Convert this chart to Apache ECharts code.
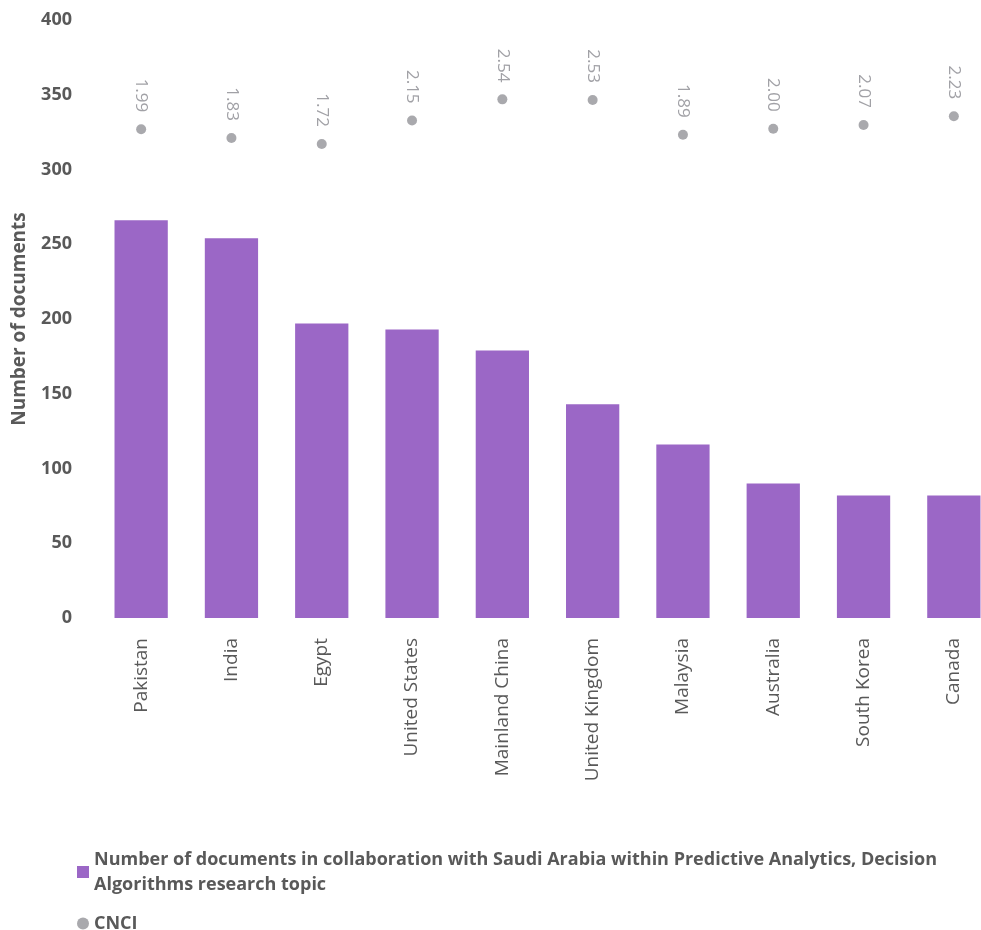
<!DOCTYPE html>
<html>
<head>
<meta charset="utf-8">
<script src="https://cdn.jsdelivr.net/npm/echarts@6/dist/echarts.min.js"></script>
<style>
  html, body { margin: 0; padding: 0; background: #fff; }
  #chart { width: 981px; height: 930px; }
</style>
</head>
<body>
<div id="chart"></div>
<script>
// countries (x axis)
let countries = ['Pakistan', 'India', 'Egypt', 'United States', 'Mainland China',
    'United Kingdom', 'Malaysia', 'Australia', 'South Korea', 'Canada'];

// number of documents per country
let docCounts = [266, 254, 197, 193, 179, 143, 116, 90, 82, 82];

// CNCI per country
let cnciValues = [1.99, 1.83, 1.72, 2.15, 2.54, 2.53, 1.89, 2.00, 2.07, 2.23];

let yTicks = { min: 0, max: 400, interval: 50 };

let docsName = 'Number of documents in collaboration with Saudi Arabia within Predictive Analytics, Decision Algorithms research topic';

let textGray = '#595959';
let dotGray = '#939399';

let option = {
    animation: false,
    textStyle: { fontFamily: 'Open Sans' },
    grid: {
        left: 96,
        top: 20,
        width: 903,  // last bar runs off the right edge, like the original
        height: 598,
        outerBoundsMode: 'none'
    },
    legend: {
        orient: 'vertical',
        left: 72,
        top: 842,
        itemGap: 14,
        itemWidth: 12,
        itemHeight: 12,
        textStyle: {
            color: textGray,
            fontSize: 18,
            fontWeight: 'bold',
            width: 875,
            overflow: 'break',
            lineHeight: 25
        },
        data: [
            { name: docsName, icon: 'rect' },
            { name: 'CNCI', icon: 'circle', itemStyle: { color: dotGray } }
        ]
    },
    xAxis: {
        type: 'category',
        data: countries,
        axisLine: { show: false },
        axisTick: { show: false },
        axisLabel: {
            rotate: 90,
            color: textGray,
            fontSize: 19,
            margin: 20
        }
    },
    yAxis: [
        {
            type: 'value',
            min: yTicks.min,
            max: yTicks.max,
            interval: yTicks.interval,
            name: 'Number of documents',
            nameLocation: 'middle',
            nameGap: 67,
            nameTextStyle: { color: textGray, fontSize: 19, fontWeight: 'bold' },
            splitLine: { show: false },
            axisLine: { show: false },
            axisTick: { show: false },
            axisLabel: { color: textGray, fontSize: 18, fontWeight: 'bold', margin: 24 }
        },
        {
            // hidden axis for CNCI dots
            type: 'value',
            min: -7,
            max: 4,
            show: false,
            splitLine: { show: false }
        }
    ],
    series: [
        {
            name: docsName,
            type: 'bar',
            barWidth: '59%',
            itemStyle: { color: '#9B67C6' },
            data: docCounts
        },
        {
            name: 'CNCI',
            type: 'scatter',
            yAxisIndex: 1,
            symbol: 'circle',
            symbolSize: 10,
            itemStyle: { color: dotGray },
            label: {
                show: true,
                position: 'top',
                distance: 12,
                rotate: -90,
                align: 'right',
                verticalAlign: 'middle',
                color: '#8a8a90',
                fontSize: 17,
                formatter: (p) => p.value.toFixed(2)
            },
            data: cnciValues
        }
    ]
};

let chart = echarts.init(document.getElementById('chart'));
chart.setOption(option);
</script>
</body>
</html>
